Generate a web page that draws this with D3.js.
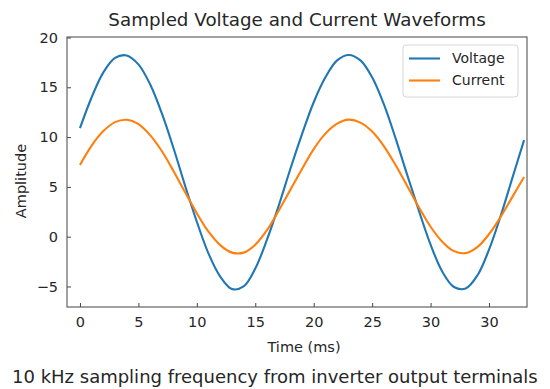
<!DOCTYPE html>
<html>
<head>
<meta charset="utf-8">
<title>Sampled Voltage and Current Waveforms</title>
<script src="https://d3js.org/d3.v7.min.js"></script>
<style>
  body { margin: 0; background: #fff; font-family: "DejaVu Sans", sans-serif; }
  svg text { fill: #262626; }
  .axis .domain { display: none; }
  .axis .tick line { stroke: #444; }
</style>
</head>
<body>
<script>
// time in ms, one sample per ms
const timeMs = [0, 1, 2, 3, 4, 5, 6, 7, 8, 9, 10, 11, 12, 13, 14, 15, 16, 17, 18, 19,
                20, 21, 22, 23, 24, 25, 26, 27, 28, 29, 30, 31, 32, 33, 34, 35, 36, 37, 38];
const voltage = [10.9, 14.0, 16.5, 17.95, 18.2, 17.3, 15.3, 12.4, 8.9, 5.1,
                 1.5, -1.7, -4.0, -5.25, -5.0, -3.2, -0.3, 3.1, 6.8, 10.3,
                 13.5, 16.0, 17.7, 18.25, 17.7, 16.0, 13.3, 9.9, 6.2, 2.6,
                 -0.8, -3.5, -5.05, -5.2, -3.9, -1.3, 2.1, 5.9, 9.7];
const current = [7.2, 9.15, 10.6, 11.5, 11.74, 11.3, 10.2, 8.6, 6.6, 4.45,
                 2.35, 0.5, -0.85, -1.6, -1.6, -0.8, 0.65, 2.6, 4.7, 6.8,
                 8.8, 10.35, 11.35, 11.75, 11.45, 10.55, 9.1, 7.2, 5.1, 2.95,
                 1.0, -0.5, -1.45, -1.65, -1.05, 0.25, 2.0, 4.0, 6.0];
const xTicks = [0, 5, 10, 15, 20, 25, 30, 35];
const xTickLabels = ["0", "5", "10", "15", "20", "25", "30", "30"];
const yTicks = [-5, 0, 5, 10, 15, 20];
const seriesNames = ["Voltage", "Current"];
const seriesColors = ["#1f77b4", "#ff7f0e"];

const W = 550, H = 389;
const plot = { left: 67, right: 527, top: 37, bottom: 307 };

const svg = d3.select("body").append("svg")
  .attr("width", W)
  .attr("height", H);

const x = d3.scaleLinear().domain([-1.11, 38.25]).range([plot.left, plot.right]);
const y = d3.scaleLinear().domain([-7.06, 20.05]).range([plot.bottom, plot.top]);

// axes, ticks pointing in
svg.append("g")
  .attr("class", "axis")
  .attr("transform", "translate(0," + plot.bottom + ")")
  .call(d3.axisBottom(x)
    .tickValues(xTicks)
    .tickFormat((d, i) => xTickLabels[i])
    .tickSizeInner(-4).tickSizeOuter(0).tickPadding(10))
  .call(g => g.selectAll("text").attr("font-size", 14.5).attr("font-family", "DejaVu Sans"));

svg.append("g")
  .attr("class", "axis")
  .attr("transform", "translate(" + plot.left + ",0)")
  .call(d3.axisLeft(y)
    .tickValues(yTicks)
    .tickFormat(d => d < 0 ? "\u2212" + Math.abs(d) : d)
    .tickSizeInner(-4).tickSizeOuter(0).tickPadding(9))
  .call(g => g.selectAll("text").attr("font-size", 14.5).attr("font-family", "DejaVu Sans"));

// lines
const series = [voltage, current];
const line = d3.line()
  .x((d, i) => x(timeMs[i]))
  .y(d => y(d))
  .curve(d3.curveCatmullRom.alpha(0.5));

svg.append("g").selectAll("path")
  .data(series)
  .enter()
  .append("path")
  .attr("d", d => line(d))
  .attr("fill", "none")
  .attr("stroke", (d, i) => seriesColors[i])
  .attr("stroke-width", 2.1);

// frame
svg.append("rect")
  .attr("x", plot.left).attr("y", plot.top)
  .attr("width", plot.right - plot.left)
  .attr("height", plot.bottom - plot.top)
  .attr("fill", "none")
  .attr("stroke", "#555")
  .attr("stroke-width", 1.1);

// legend
const legend = svg.append("g");
legend.append("rect")
  .attr("x", 403).attr("y", 45)
  .attr("width", 115).attr("height", 52)
  .attr("rx", 3)
  .attr("fill", "#fff").attr("fill-opacity", 0.8)
  .attr("stroke", "#d6d6d6");

seriesNames.forEach(function (name, i) {
  const ly = 58.5 + i * 22;
  legend.append("line")
    .attr("x1", 409).attr("x2", 440)
    .attr("y1", ly).attr("y2", ly)
    .attr("stroke", seriesColors[i])
    .attr("stroke-width", 2.1);
  legend.append("text")
    .attr("x", 452).attr("y", ly)
    .attr("dy", "0.35em")
    .attr("font-size", 14)
    .text(name);
});

// titles
svg.append("text")
  .attr("x", (plot.left + plot.right) / 2)
  .attr("y", 26)
  .attr("text-anchor", "middle")
  .attr("font-size", 18.3)
  .text("Sampled Voltage and Current Waveforms");

svg.append("text")
  .attr("x", 304)
  .attr("y", 352)
  .attr("text-anchor", "middle")
  .attr("font-size", 14.5)
  .text("Time (ms)");

svg.append("text")
  .attr("transform", "translate(26,181) rotate(-90)")
  .attr("text-anchor", "middle")
  .attr("font-size", 14.5)
  .text("Amplitude");

svg.append("text")
  .attr("x", 12)
  .attr("y", 383)
  .attr("font-size", 18)
  .text("10 kHz sampling frequency from inverter output terminals");
</script>
</body>
</html>
